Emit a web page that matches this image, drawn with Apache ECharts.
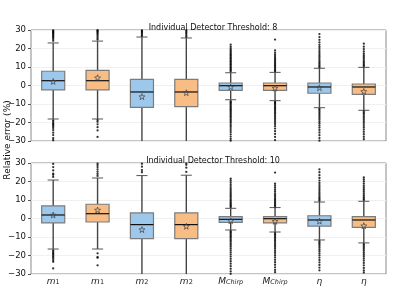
<!DOCTYPE html>
<html><head><meta charset="utf-8">
<script src="https://cdn.jsdelivr.net/npm/echarts@6/dist/echarts.min.js"></script>
<style>html,body{margin:0;padding:0;background:#fff}#c{width:407px;height:305px}</style>
</head><body><div id="c"></div>
<script>
// Category labels (x axis)
const categories = ['m1', 'm1b', 'm2', 'm2b', 'Mc', 'Mcb', 'eta', 'etab'];
const tickLabels = ['{i|m}{s|1}', '{i|m}{s|1}', '{i|m}{s|2}', '{i|m}{s|2}', '{i|M}{si|Chirp}', '{i|M}{si|Chirp}', '{i|η}', '{i|η}'];
const panelTitles = ['Individual Detector Threshold: 8', 'Individual Detector Threshold: 10'];
const yTicks = [-30, -20, -10, 0, 10, 20, 30];

// Box stats per panel: [whiskerLow, Q1, median, Q3, whiskerHigh]
const boxes8 = [
  [-18.1, -2.4, 2.6, 7.7, 23.0],
  [-18.1, -2.4, 2.6, 8.2, 24.0],
  [-30.5, -11.8, -3.5, 3.3, 26.2],
  [-30.5, -11.4, -3.5, 3.3, 25.7],
  [-7.7, -2.6, -0.1, 1.35, 6.9],
  [-8.2, -2.6, -0.1, 1.35, 7.1],
  [-12.0, -4.2, -0.8, 1.35, 9.3],
  [-13.4, -4.8, -0.8, 0.8, 9.8]
];
const boxes10 = [
  [-16.5, -2.4, 1.9, 6.8, 20.8],
  [-16.5, -1.9, 2.6, 7.7, 21.9],
  [-30.5, -10.9, -3.3, 3.0, 23.2],
  [-30.5, -10.9, -3.3, 3.0, 23.4],
  [-6.2, -2.1, -0.45, 1.0, 5.5],
  [-7.3, -2.4, -0.1, 1.0, 5.9],
  [-11.6, -4.1, -0.8, 1.5, 8.9],
  [-13.2, -4.8, -0.8, 1.0, 9.3]
];
// Means (star markers)
const means8 = [2.2, 4.2, -6.0, -3.9, -0.8, -1.4, -1.2, -3.2];
const means10 = [1.9, 4.6, -6.0, -4.2, -1.2, -1.5, -1.4, -3.9];

// Outliers per box
const out8 = [
  [24.2, 25.1, 25.8, 26.5, 27.0, 27.6, 28.1, 28.5, 29.0, 29.4, 29.8, -18.8, -19.5, -20.3, -20.9, -21.5, -22.2, -23.0, -24.1, -25.5, -26.8, -28.5, -29.6],
  [24.8, 25.5, 26.3, 27.1, 27.8, 28.4, 29.0, 29.5, 29.9, -18.7, -19.6, -21.0, -22.5, -24.3, -27.8],
  [26.8, 27.5, 28.2, 28.8, 29.3, 29.8],
  [26.3, 27.0, 27.8, 28.5, 29.2, 29.8],
  [7.6, 8.2, 8.8, 9.5, 10.1, 10.8, 11.4, 12.0, 12.7, 13.3, 14.0, 14.6, 15.2, 15.9, 16.5, 17.2, 17.9, 18.6, 19.3, 20.1, 21.0, 22.1,
   -8.4, -9.0, -9.6, -10.2, -10.9, -11.5, -12.2, -12.8, -13.5, -14.2, -14.9, -15.6, -16.3, -17.0, -17.8, -18.6, -19.4, -20.2, -21.1, -22.0, -23.0, -24.1, -25.2, -26.4, -27.6, -28.8, -29.8],
  [7.7, 8.3, 9.0, 9.7, 10.4, 11.1, 11.9, 12.6, 13.4, 14.2, 15.0, 15.9, 16.8, 17.8, 19.0, 24.8,
   -8.8, -9.4, -10.0, -10.7, -11.4, -12.1, -12.8, -13.6, -14.4, -15.2, -16.0, -16.9, -17.8, -18.7, -19.7, -20.8, -22.0, -23.3, -24.7, -26.2, -27.8, -29.5],
  [9.9, 10.6, 11.4, 12.2, 13.0, 13.9, 14.8, 15.7, 16.6, 17.6, 18.6, 19.7, 20.8, 22.0, 23.3, 24.7, 26.2, 27.8,
   -12.6, -13.3, -14.1, -14.9, -15.7, -16.6, -17.5, -18.4, -19.4, -20.4, -21.5, -22.7, -24.0, -25.4, -26.9, -28.4, -29.8],
  [10.4, 11.1, 11.9, 12.7, 13.6, 14.5, 15.4, 16.4, 17.4, 18.5, 19.7, 21.0, 22.6,
   -14.0, -14.8, -15.6, -16.5, -17.4, -18.3, -19.3, -20.3, -21.4, -22.5, -23.7, -25.0, -26.3, -27.7, -29.0]
];
const out10 = [
  [22.5, 23.6, 24.2, 26.0, 27.8, 29.5, -17.2, -17.9, -18.6, -19.3, -20.0, -20.8, -21.6, -22.5, -23.4, -27.0],
  [23.0, 24.1, 25.3, 26.6, 27.8, 28.9, 29.7, -18.8, -20.9, -21.2, -25.3],
  [25.0, 26.2, 28.0, 29.6],
  [25.2, 27.5, 29.0, 29.8],
  [6.1, 6.7, 7.3, 8.0, 8.7, 9.4, 10.1, 10.9, 11.7, 12.5, 13.3, 14.2, 15.1, 16.0, 17.0, 18.1, 19.3, 20.4, 21.5,
   -6.8, -7.4, -8.0, -8.7, -9.4, -10.1, -10.9, -11.7, -12.5, -13.4, -14.3, -15.2, -16.2, -17.2, -18.3, -19.4, -20.6, -21.8, -23.1, -24.4, -25.8, -27.2, -28.6, -29.9],
  [6.5, 7.1, 7.8, 8.5, 9.2, 10.0, 10.8, 11.7, 12.6, 13.5, 14.5, 15.5, 16.6, 17.7, 18.8, 24.8,
   -7.9, -8.6, -9.3, -10.1, -10.9, -11.7, -12.6, -13.5, -14.4, -15.4, -16.4, -17.5, -18.6, -19.8, -21.0, -22.3, -23.6, -25.0, -26.4, -27.8, -29.0],
  [9.6, 10.4, 11.2, 12.0, 12.9, 13.8, 14.8, 15.8, 16.9, 18.0, 19.2, 20.5, 21.9, 23.4, 25.0, 26.6,
   -12.3, -13.1, -13.9, -14.8, -15.7, -16.7, -17.7, -18.8, -19.9, -21.1, -22.4, -23.7, -25.1, -26.5, -28.0],
  [10.0, 10.8, 11.6, 12.5, 13.4, 14.4, 15.4, 16.5, 17.6, 18.8, 20.0, 21.1, 22.2,
   -13.9, -14.7, -15.5, -16.4, -17.3, -18.3, -19.3, -20.4, -21.5, -22.7, -24.0, -25.3, -26.7, -28.0, -29.2]
];

const fills = ['#9dc8ec', '#f8bd84'];
const FONT = 'DejaVu Sans';
const STAR = 'path://M0,-10 L2.35,-3.24 L9.51,-3.09 L3.8,1.24 L5.88,8.09 L0,4 L-5.88,8.09 L-3.8,1.24 L-9.51,-3.09 L-2.35,-3.24 Z';

const grids = [
  {left: 31, right: 21, top: 30, height: 111},
  {left: 31, right: 21, top: 163, height: 111}
];

function boxSeries(stats, gi) {
  return {
    type: 'custom', xAxisIndex: gi, yAxisIndex: gi, clip: true, z: 2,
    data: stats.map((s, i) => [i, s[0], s[1], s[2], s[3], s[4], i % 2]),
    encode: {x: 0, y: [1, 2, 3, 4, 5]},
    renderItem: function (params, api) {
      const x = api.value(0);
      const band = api.size([1, 0])[0];
      const bw = band * 0.52, cw = band * 0.25;
      const pLo = api.coord([x, api.value(1)]);
      const pQ1 = api.coord([x, api.value(2)]);
      const pMd = api.coord([x, api.value(3)]);
      const pQ3 = api.coord([x, api.value(4)]);
      const pHi = api.coord([x, api.value(5)]);
      const cx = pMd[0];
      const wStyle = {stroke: '#444', lineWidth: 1.4};
      return {
        type: 'group',
        children: [
          {type: 'line', shape: {x1: cx, y1: pQ3[1], x2: cx, y2: pHi[1]}, style: wStyle},
          {type: 'line', shape: {x1: cx, y1: pQ1[1], x2: cx, y2: pLo[1]}, style: wStyle},
          {type: 'line', shape: {x1: cx - cw / 2, y1: pHi[1], x2: cx + cw / 2, y2: pHi[1]}, style: {stroke: '#555', lineWidth: 1}},
          {type: 'line', shape: {x1: cx - cw / 2, y1: pLo[1], x2: cx + cw / 2, y2: pLo[1]}, style: {stroke: '#555', lineWidth: 1}},
          {type: 'rect', shape: {x: cx - bw / 2, y: pQ3[1], width: bw, height: pQ1[1] - pQ3[1]},
            style: {fill: fills[api.value(6)], stroke: '#7c7c7c', lineWidth: 1.2}},
          {type: 'line', shape: {x1: cx - bw / 2, y1: pMd[1], x2: cx + bw / 2, y2: pMd[1]}, style: {stroke: '#111', lineWidth: 1.2}}
        ]
      };
    }
  };
}

function outlierSeries(outs, gi) {
  const pts = [];
  outs.forEach((arr, i) => arr.forEach(v => pts.push([i, v])));
  return {
    type: 'scatter', xAxisIndex: gi, yAxisIndex: gi, z: 3, silent: true,
    symbolSize: 2.3, itemStyle: {color: '#000'}, data: pts
  };
}

function meanSeries(means, gi) {
  return {
    type: 'scatter', xAxisIndex: gi, yAxisIndex: gi, z: 4, silent: true,
    symbol: STAR, symbolSize: 6,
    itemStyle: {color: 'rgba(0,0,0,0)', borderColor: '#444', borderWidth: 0.9},
    data: means.map((m, i) => [i, m])
  };
}

const richX = {
  i: {fontFamily: FONT, fontStyle: 'italic', fontSize: 9, color: '#222', verticalAlign: 'bottom', lineHeight: 10},
  s: {fontFamily: FONT, fontSize: 6.5, color: '#222', verticalAlign: 'bottom', lineHeight: 7},
  si: {fontFamily: FONT, fontStyle: 'italic', fontSize: 6.5, color: '#222', verticalAlign: 'bottom', lineHeight: 7}
};

const chart = echarts.init(document.getElementById('c'), null, {renderer: 'canvas'});
const option = {
  animation: false,
  backgroundColor: '#fff',
  grid: grids.map(g => Object.assign({show: true, borderColor: '#8a8a8a', borderWidth: 1, backgroundColor: 'transparent'}, g)),
  title: panelTitles.map((t, i) => ({
    text: t, left: 208, top: i === 0 ? 19 : 152, textAlign: 'center',
    textStyle: {fontFamily: FONT, fontSize: 8, fontWeight: 'normal', color: '#111'}
  })),
  xAxis: [0, 1].map(gi => ({
    type: 'category', gridIndex: gi, data: categories,
    axisLine: {show: false}, axisTick: {show: false}, splitLine: {show: false},
    axisLabel: {
      show: gi === 1, margin: 2, interval: 0,
      formatter: (v, idx) => tickLabels[idx],
      rich: richX
    }
  })),
  yAxis: [0, 1].map(gi => ({
    type: 'value', gridIndex: gi, min: yTicks[0], max: yTicks[yTicks.length - 1], interval: 10,
    axisLine: {show: false},
    axisTick: {show: true, length: 3, lineStyle: {color: '#555'}},
    axisLabel: {fontFamily: FONT, fontSize: 8.5, color: '#111', margin: 5,
      formatter: v => (v < 0 ? '\u2212' + Math.abs(v) : String(v))},
    splitLine: {show: true, lineStyle: {color: '#f0f0f0', width: 1}}
  })),
  graphic: [{
    type: 'text', x: 8, y: 140, rotation: Math.PI / 2,
    style: {text: 'Relative error (%)', fontFamily: FONT, fontSize: 9, fill: '#111', align: 'center', verticalAlign: 'middle'}
  }],
  series: [
    boxSeries(boxes8, 0), outlierSeries(out8, 0), meanSeries(means8, 0),
    boxSeries(boxes10, 1), outlierSeries(out10, 1), meanSeries(means10, 1)
  ]
};
chart.setOption(option);
</script>
</body></html>
